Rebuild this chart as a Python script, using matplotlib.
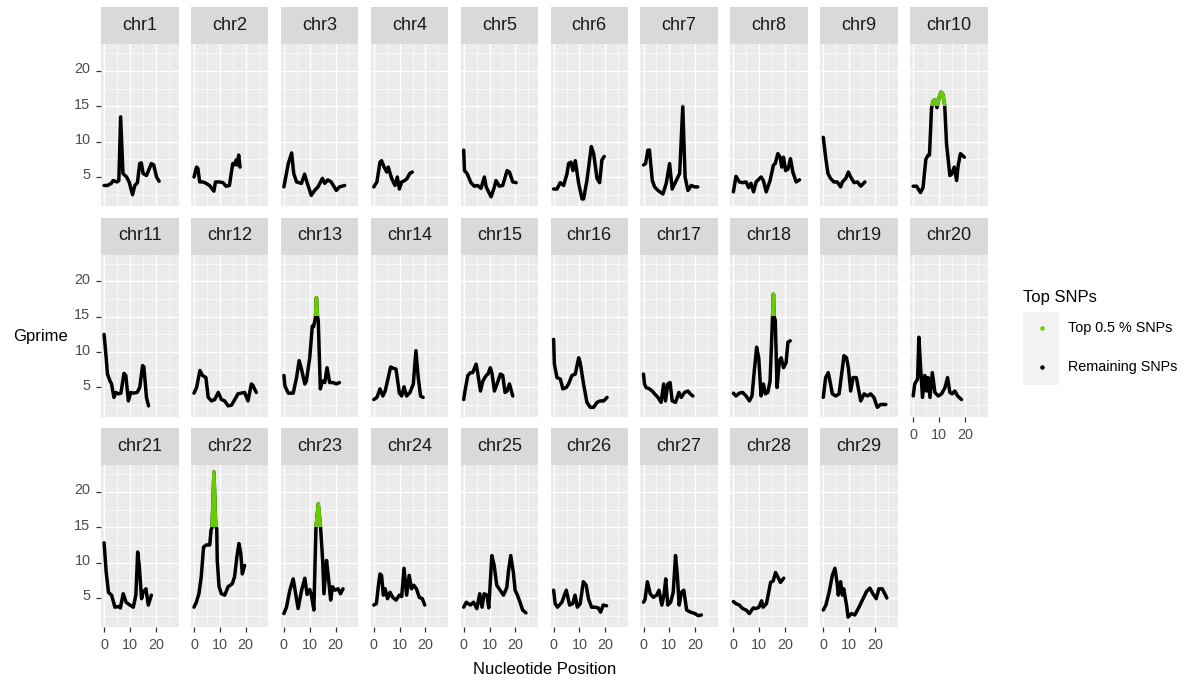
import matplotlib
matplotlib.use("Agg")
import matplotlib.pyplot as plt
from matplotlib.patches import Rectangle
from matplotlib.lines import Line2D
import matplotlib.transforms as mtrans

plt.rcParams['font.family'] = ['Liberation Sans', 'DejaVu Sans']

# ---- G' statistic along each chromosome (position in Mb) ----
pos_chr1 = [0.0, 1.3, 2.8, 3.5, 5.0, 5.7, 6.4, 7.3, 8.7, 9.7, 11.0, 11.9, 12.9, 13.8, 14.4, 15.1, 16.4, 18.3, 19.2, 20.3, 21.3]
g_chr1 = [3.8, 3.8, 4.1, 4.5, 4.3, 4.5, 13.5, 5.5, 5.0, 4.3, 2.5, 3.8, 4.2, 6.9, 7.0, 5.5, 5.2, 6.9, 6.7, 5.0, 4.4]

pos_chr2 = [0.0, 1.0, 1.5, 2.2, 3.5, 4.7, 6.0, 7.7, 8.3, 9.9, 11.2, 12.4, 13.7, 15.0, 15.6, 16.3, 16.7, 17.3, 17.8]
g_chr2 = [5.0, 6.4, 6.2, 4.3, 4.3, 4.1, 3.8, 3.0, 4.3, 4.3, 4.2, 3.7, 3.8, 6.9, 6.7, 7.4, 6.7, 8.1, 6.4]

pos_chr3 = [0.0, 1.7, 3.0, 3.8, 4.9, 6.8, 8.0, 8.9, 10.6, 11.9, 13.2, 14.9, 15.8, 17.0, 18.3, 20.3, 21.5, 23.5]
g_chr3 = [3.6, 6.9, 8.4, 5.5, 4.3, 4.1, 5.4, 4.3, 2.4, 3.1, 3.6, 4.8, 4.1, 4.6, 4.3, 3.1, 3.6, 3.8]

pos_chr4 = [0.0, 1.2, 2.4, 3.0, 4.0, 5.0, 5.6, 6.9, 8.2, 9.1, 9.9, 10.8, 12.0, 12.9, 13.9, 14.9]
g_chr4 = [3.6, 4.3, 7.1, 7.3, 6.4, 5.7, 6.4, 4.8, 3.8, 5.0, 3.3, 4.3, 4.5, 4.8, 5.5, 5.7]

pos_chr5 = [0.0, 0.3, 1.3, 2.8, 4.1, 5.4, 6.7, 8.0, 8.7, 10.6, 11.9, 12.5, 13.8, 15.1, 16.8, 17.7, 19.0, 20.3]
g_chr5 = [8.8, 5.9, 5.5, 4.2, 3.7, 3.8, 3.4, 5.0, 3.6, 2.2, 3.6, 4.5, 3.7, 3.8, 5.9, 5.7, 4.3, 4.2]

pos_chr6 = [0.0, 1.3, 2.6, 3.9, 5.2, 5.8, 6.7, 7.5, 8.4, 9.7, 11.0, 11.6, 12.9, 14.6, 15.5, 16.8, 17.8, 18.7, 19.6]
g_chr6 = [3.3, 3.3, 4.2, 3.8, 5.5, 6.9, 7.1, 5.9, 7.3, 4.1, 1.9, 1.9, 4.5, 9.3, 8.3, 4.8, 4.2, 7.4, 7.9]

pos_chr7 = [0.0, 0.8, 1.7, 2.3, 3.4, 4.3, 5.6, 7.5, 8.8, 10.1, 11.1, 12.4, 14.0, 15.2, 16.1, 17.2, 18.5, 19.8, 21.0]
g_chr7 = [6.7, 6.9, 8.8, 8.8, 4.5, 3.6, 3.1, 2.6, 4.1, 6.9, 3.3, 4.3, 5.5, 15.0, 5.0, 3.1, 3.8, 3.6, 3.6]

pos_chr8 = [0.0, 1.0, 2.3, 3.6, 4.9, 5.9, 6.8, 7.8, 8.8, 10.7, 11.6, 12.7, 14.2, 15.5, 16.2, 17.2, 18.1, 18.7, 19.4, 20.2, 21.1, 22.1, 23.0, 24.3, 25.6]
g_chr8 = [2.9, 5.1, 4.3, 4.2, 4.3, 3.5, 4.1, 2.9, 4.3, 5.0, 4.5, 2.9, 4.5, 6.7, 6.9, 8.3, 7.8, 6.4, 7.8, 5.9, 6.1, 7.6, 5.7, 4.3, 4.6]

pos_chr9 = [0.0, 0.9, 1.8, 2.8, 4.1, 5.4, 6.7, 7.4, 8.7, 9.7, 10.6, 11.9, 13.2, 14.5, 16.1]
g_chr9 = [10.6, 7.8, 5.5, 4.8, 4.3, 4.3, 3.6, 4.3, 4.8, 5.7, 5.0, 4.2, 4.3, 3.7, 4.3]

pos_chr10 = [0.0, 1.3, 2.8, 3.8, 4.9, 5.8, 6.3, 7.1, 7.8, 8.5, 9.2, 10.1, 10.7, 11.4, 12.2, 12.9, 14.2, 14.9, 15.9, 16.8, 17.4, 18.3, 19.8]
g_chr10 = [3.7, 3.7, 2.8, 3.5, 7.5, 8.1, 8.1, 14.8, 15.8, 15.9, 14.8, 16.3, 17.0, 16.8, 15.1, 9.7, 5.2, 5.4, 6.4, 4.5, 6.6, 8.3, 7.8]

pos_chr11 = [0.0, 0.8, 1.3, 2.3, 2.9, 3.8, 4.6, 5.5, 6.5, 7.7, 8.4, 9.4, 10.3, 11.3, 12.8, 13.8, 14.9, 15.4, 16.4, 17.2]
g_chr11 = [12.5, 9.2, 6.9, 5.9, 5.5, 3.6, 4.3, 4.1, 4.2, 7.0, 6.7, 3.1, 4.3, 4.2, 4.3, 5.0, 8.1, 7.9, 3.6, 2.4]

pos_chr12 = [0.0, 1.0, 2.3, 3.3, 4.6, 5.5, 6.8, 8.0, 9.4, 10.6, 11.9, 13.2, 14.5, 15.8, 17.0, 18.3, 19.6, 20.9, 22.2, 22.8, 24.1]
g_chr12 = [4.2, 5.0, 7.4, 6.7, 6.4, 3.6, 3.1, 3.3, 4.3, 3.3, 3.1, 2.4, 2.5, 3.3, 4.1, 4.2, 4.3, 3.1, 5.5, 5.3, 4.3]

pos_chr13 = [0.0, 0.4, 1.7, 3.6, 4.9, 5.9, 6.8, 8.1, 8.7, 10.0, 11.0, 11.5, 12.2, 12.6, 13.0, 13.3, 14.1, 14.9, 15.8, 16.7, 17.7, 19.0, 20.3, 21.5]
g_chr13 = [6.7, 5.2, 4.2, 4.2, 6.4, 8.8, 7.6, 5.5, 5.9, 9.2, 13.7, 13.6, 14.9, 17.7, 15.0, 14.5, 4.8, 5.9, 5.7, 7.8, 5.7, 5.7, 5.5, 5.7]

pos_chr14 = [0.0, 1.2, 2.4, 3.5, 4.4, 5.6, 6.5, 7.6, 8.6, 9.9, 10.8, 11.7, 12.7, 14.0, 15.3, 16.3, 17.2, 18.1, 19.1]
g_chr14 = [3.3, 3.6, 4.8, 3.8, 4.5, 6.4, 7.9, 7.7, 7.6, 4.2, 3.8, 5.1, 3.8, 4.3, 5.5, 10.2, 6.4, 3.8, 3.6]

pos_chr15 = [0.0, 0.5, 1.6, 2.6, 3.5, 4.8, 5.4, 6.5, 7.4, 8.7, 9.4, 10.3, 10.9, 11.9, 12.9, 14.2, 15.1, 16.0, 16.8, 17.7, 19.0]
g_chr15 = [3.3, 4.5, 6.7, 7.1, 7.1, 8.3, 7.1, 4.5, 5.9, 6.7, 6.9, 7.8, 7.1, 4.5, 5.5, 6.9, 6.7, 4.3, 4.5, 5.5, 3.8]

pos_chr16 = [0.0, 0.3, 1.3, 2.6, 3.6, 4.9, 5.8, 7.1, 8.4, 9.7, 10.3, 11.6, 12.9, 14.2, 15.5, 16.8, 18.1, 19.4, 20.7]
g_chr16 = [11.8, 8.3, 6.4, 6.2, 4.8, 5.0, 5.5, 6.7, 6.9, 9.2, 8.5, 5.5, 2.9, 2.2, 2.2, 2.9, 3.1, 3.1, 3.6]

pos_chr17 = [0.0, 0.4, 1.0, 2.3, 3.4, 4.3, 5.6, 6.8, 7.8, 8.5, 9.4, 10.3, 11.1, 12.4, 13.7, 14.6, 15.9, 17.2, 18.1, 19.1]
g_chr17 = [6.9, 5.5, 5.0, 4.8, 4.5, 4.1, 3.6, 2.9, 5.5, 3.1, 5.5, 5.7, 3.1, 2.9, 4.3, 3.6, 4.3, 4.5, 4.1, 3.8]

pos_chr18 = [0.0, 1.0, 2.3, 3.6, 4.9, 6.2, 7.2, 8.1, 9.0, 9.8, 10.7, 11.6, 12.4, 13.3, 14.2, 15.1, 15.5, 15.8, 16.2, 16.9, 17.8, 18.5, 19.4, 20.4, 21.1, 22.0]
g_chr18 = [4.2, 3.8, 4.2, 4.3, 3.8, 3.1, 3.8, 7.4, 10.7, 9.2, 3.8, 5.5, 4.1, 4.3, 5.9, 14.5, 18.2, 15.0, 14.5, 5.0, 8.8, 9.2, 7.8, 8.5, 11.4, 11.6]

pos_chr19 = [0.0, 0.9, 1.9, 2.8, 3.5, 4.8, 6.1, 7.1, 8.0, 9.0, 9.7, 10.6, 11.5, 12.8, 13.6, 14.5, 15.8, 17.1, 18.3, 19.6, 20.9, 22.2, 24.2]
g_chr19 = [3.6, 6.4, 7.1, 5.5, 4.1, 3.8, 4.1, 6.9, 9.5, 9.2, 7.8, 4.5, 6.4, 6.4, 4.8, 3.1, 4.1, 3.8, 4.1, 3.6, 2.2, 2.6, 2.6]

pos_chr20 = [0.0, 0.6, 1.7, 2.2, 2.8, 3.6, 4.5, 5.2, 5.8, 6.5, 7.4, 8.4, 9.7, 11.0, 12.3, 13.3, 14.2, 15.1, 16.1, 17.2, 18.7]
g_chr20 = [3.8, 5.5, 6.2, 12.1, 8.3, 3.6, 6.7, 4.5, 6.4, 3.6, 7.1, 4.3, 3.8, 4.1, 5.0, 6.4, 4.3, 4.1, 4.5, 3.8, 3.3]

pos_chr21 = [0.0, 0.8, 1.7, 2.9, 4.2, 5.5, 6.3, 7.4, 8.5, 10.0, 11.3, 12.3, 13.0, 13.6, 14.5, 15.1, 16.2, 17.1, 18.3]
g_chr21 = [12.8, 8.7, 5.8, 5.4, 3.7, 3.8, 3.6, 5.6, 4.4, 4.0, 3.7, 5.4, 11.5, 9.6, 4.9, 5.8, 6.3, 4.0, 5.4]

pos_chr22 = [0.0, 0.9, 1.9, 2.8, 3.7, 4.8, 6.1, 6.6, 7.0, 7.7, 8.4, 8.8, 9.0, 9.7, 10.6, 11.9, 13.2, 14.8, 15.7, 16.6, 17.4, 18.1, 18.7, 19.6]
g_chr22 = [3.7, 4.4, 5.6, 8.0, 12.2, 12.5, 12.5, 14.6, 15.0, 22.8, 15.2, 14.8, 10.3, 6.6, 5.6, 5.4, 6.6, 7.0, 8.0, 10.8, 12.7, 11.3, 8.4, 9.6]

pos_chr23 = [0.0, 1.0, 2.3, 3.6, 5.5, 6.8, 8.1, 9.0, 10.0, 10.6, 11.6, 12.4, 13.3, 14.2, 15.0, 15.5, 16.5, 17.2, 18.1, 18.8, 19.7, 21.0, 21.9, 22.9]
g_chr23 = [2.8, 3.7, 6.1, 7.7, 3.5, 6.0, 7.8, 5.5, 6.2, 5.5, 3.3, 14.8, 18.3, 15.0, 10.3, 5.6, 10.3, 8.0, 4.7, 6.6, 6.1, 6.3, 5.6, 6.3]

pos_chr24 = [0.0, 1.0, 1.8, 2.4, 3.0, 3.7, 4.4, 5.3, 6.3, 7.3, 8.6, 9.9, 10.8, 11.7, 12.7, 13.7, 14.6, 15.5, 16.5, 17.6, 18.8, 19.7]
g_chr24 = [4.0, 4.2, 6.8, 8.4, 8.2, 5.4, 6.3, 4.9, 5.8, 5.1, 4.7, 5.4, 5.2, 9.2, 5.4, 8.2, 6.3, 6.8, 6.3, 5.1, 4.9, 4.0]

pos_chr25 = [0.0, 1.0, 2.6, 3.8, 5.1, 6.2, 7.1, 7.9, 9.0, 9.7, 10.3, 10.9, 11.8, 12.8, 14.1, 15.4, 16.7, 17.3, 18.2, 19.2, 19.9, 20.8, 21.8, 22.8, 24.1]
g_chr25 = [3.7, 4.4, 4.0, 4.4, 3.5, 5.6, 3.7, 5.6, 5.4, 3.6, 7.3, 11.0, 9.6, 6.8, 6.1, 5.4, 6.5, 8.7, 11.0, 8.7, 6.1, 5.4, 4.4, 3.3, 2.9]

pos_chr26 = [0.0, 0.6, 1.5, 3.2, 4.9, 6.2, 7.4, 8.3, 9.2, 10.3, 11.5, 12.6, 13.5, 14.7, 16.0, 17.3, 18.2, 19.2, 20.5]
g_chr26 = [6.1, 4.2, 3.7, 4.4, 6.1, 4.0, 4.2, 5.4, 3.7, 4.2, 7.3, 6.8, 4.9, 3.7, 3.7, 3.6, 3.0, 4.0, 3.9]

pos_chr27 = [0.0, 0.6, 1.5, 2.6, 3.8, 5.1, 6.0, 7.1, 8.0, 8.6, 9.4, 10.5, 11.5, 12.4, 13.1, 13.8, 14.7, 15.6, 16.7, 18.2, 19.9, 21.2, 22.4]
g_chr27 = [4.4, 4.8, 7.3, 5.6, 5.1, 5.4, 6.1, 4.0, 5.6, 7.7, 4.0, 4.4, 5.8, 11.0, 8.2, 4.0, 5.8, 6.1, 3.3, 3.0, 2.8, 2.5, 2.6]

pos_chr28 = [0.0, 1.0, 2.3, 3.6, 4.9, 6.2, 7.7, 8.7, 9.9, 10.9, 11.5, 12.8, 14.4, 15.4, 16.3, 17.3, 18.2, 19.5]
g_chr28 = [4.5, 4.2, 4.0, 3.5, 3.3, 2.8, 3.6, 3.5, 3.7, 4.6, 3.7, 4.2, 7.2, 7.4, 8.6, 7.9, 7.2, 7.8]

pos_chr29 = [0.0, 1.0, 2.3, 3.5, 4.5, 5.4, 5.8, 6.7, 7.4, 7.9, 9.0, 9.6, 10.9, 12.2, 13.8, 15.4, 16.7, 18.0, 19.2, 20.5, 21.5, 22.8, 24.1, 24.6]
g_chr29 = [3.3, 4.0, 5.9, 8.2, 9.2, 7.0, 5.4, 7.3, 5.4, 6.3, 4.0, 2.3, 2.8, 2.6, 3.7, 4.9, 5.9, 6.4, 5.6, 4.9, 6.3, 6.3, 5.4, 5.0]

chrom_names = [f"chr{i}" for i in range(1, 30)]
chrom_pos = [pos_chr1, pos_chr2, pos_chr3, pos_chr4, pos_chr5, pos_chr6, pos_chr7, pos_chr8,
             pos_chr9, pos_chr10, pos_chr11, pos_chr12, pos_chr13, pos_chr14, pos_chr15,
             pos_chr16, pos_chr17, pos_chr18, pos_chr19, pos_chr20, pos_chr21, pos_chr22,
             pos_chr23, pos_chr24, pos_chr25, pos_chr26, pos_chr27, pos_chr28, pos_chr29]
chrom_g = [g_chr1, g_chr2, g_chr3, g_chr4, g_chr5, g_chr6, g_chr7, g_chr8, g_chr9, g_chr10,
           g_chr11, g_chr12, g_chr13, g_chr14, g_chr15, g_chr16, g_chr17, g_chr18, g_chr19,
           g_chr20, g_chr21, g_chr22, g_chr23, g_chr24, g_chr25, g_chr26, g_chr27, g_chr28, g_chr29]

top_threshold = 15.1          # G' cutoff for the top 0.5 % of SNPs
legend_labels = ["Top 0.5 % SNPs", "Remaining SNPs"]
x_ticks = [0, 10, 20]
y_ticks = [5, 10, 15, 20]

# ---- styling ----
PANEL_BG = "#EBEBEB"
STRIP_BG = "#D9D9D9"
TOP_COLOR = "#66CD00"
TICK_TXT = "#4D4D4D"
TICK_CLR = "#333333"
LW = 2.5

W, H = 1187, 682
fig = plt.figure(figsize=(W / 100, H / 100), dpi=100)
fig.patch.set_facecolor("white")

def rect(x0, ytop, w, h):
    return [x0 / W, 1 - (ytop + h) / H, w / W, h / H]

ncol = 10
col_left, col_pitch, panel_w = 101.0, 89.9, 77.5
row_top, row_pitch, strip_h, panel_h = 7.0, 210.5, 37.0, 162.0
xlim = (-1.2, 28.8)
ylim = (0.9, 23.8)
n = len(chrom_names)

for i, name in enumerate(chrom_names):
    r, c = divmod(i, ncol)
    x0 = col_left + c * col_pitch
    st = row_top + r * row_pitch
    # strip
    sax = fig.add_axes(rect(x0, st, panel_w, strip_h))
    sax.set_facecolor(STRIP_BG)
    sax.set_xticks([]); sax.set_yticks([])
    for s in sax.spines.values():
        s.set_visible(False)
    sax.text(0.5, 0.5, name, ha="center", va="center", fontsize=13,
             color="#1A1A1A", transform=sax.transAxes)
    # panel
    ax = fig.add_axes(rect(x0, st + strip_h, panel_w, panel_h))
    ax.set_facecolor(PANEL_BG)
    for s in ax.spines.values():
        s.set_visible(False)
    ax.set_xlim(*xlim); ax.set_ylim(*ylim)
    ax.set_xticks(x_ticks); ax.set_yticks(y_ticks)
    ax.set_xticks([5, 15, 25], minor=True)
    ax.set_yticks([2.5, 7.5, 12.5, 17.5, 22.5], minor=True)
    ax.grid(which="major", color="white", linewidth=1.0)
    ax.grid(which="minor", color="white", linewidth=0.5)
    ax.set_axisbelow(True)
    ax.tick_params(which="minor", length=0)
    ax.tick_params(which="major", length=3.6, width=0.9, color=TICK_CLR,
                   labelsize=10.4, labelcolor=TICK_TXT)

    show_x = (r == 2) or (i + ncol >= n)
    show_y = (c == 0)
    if not show_x:
        ax.tick_params(axis="x", length=0, labelbottom=False)
    else:
        ax.tick_params(axis="x", pad=4.5)
    if not show_y:
        ax.tick_params(axis="y", length=0, labelleft=False)
    else:
        ax.tick_params(axis="y", pad=4.0)
        shift = mtrans.ScaledTranslation(0, 3 / 100, fig.dpi_scale_trans)
        for lab in ax.get_yticklabels():
            lab.set_transform(lab.get_transform() + shift)

    xs, ys = chrom_pos[i], chrom_g[i]
    ax.plot(xs, ys, color="black", linewidth=LW, solid_joinstyle="round",
            solid_capstyle="round", zorder=3)
    # highlight the part of the profile above the top-SNP cutoff
    green, = ax.plot(xs, ys, color=TOP_COLOR, linewidth=LW, solid_joinstyle="round",
                     solid_capstyle="butt", zorder=4)
    clip = Rectangle((xlim[0], top_threshold), xlim[1] - xlim[0], ylim[1] - top_threshold,
                     transform=ax.transData)
    green.set_clip_path(clip)

# axis titles
fig.text(12.7 / W, 1 - 337 / H, "Gprime", ha="left", va="center", fontsize=12, color="black")
fig.text(544.5 / W, 1 - 670 / H, "Nucleotide Position", ha="center", va="center",
         fontsize=12, color="black")

# legend
fig.text(1023 / W, 1 - 297 / H, "Top SNPs", ha="left", va="center", fontsize=12, color="black")
fig.patches.append(Rectangle((1022.7 / W, 1 - 385 / H), 36.6 / W, 73.3 / H,
                             transform=fig.transFigure, facecolor="#F2F2F2",
                             edgecolor="none"))
for y_px, col, lab in [(328, TOP_COLOR, legend_labels[0]), (367, "black", legend_labels[1])]:
    fig.add_artist(Line2D([1041.7 / W], [1 - y_px / H], marker="o", markersize=2.2,
                          color=col, linestyle="none", transform=fig.transFigure))
    fig.text(1068.3 / W, 1 - y_px / H, lab, ha="left", va="center", fontsize=10.4,
             color="black")

fig.savefig("out.png", dpi=100)
